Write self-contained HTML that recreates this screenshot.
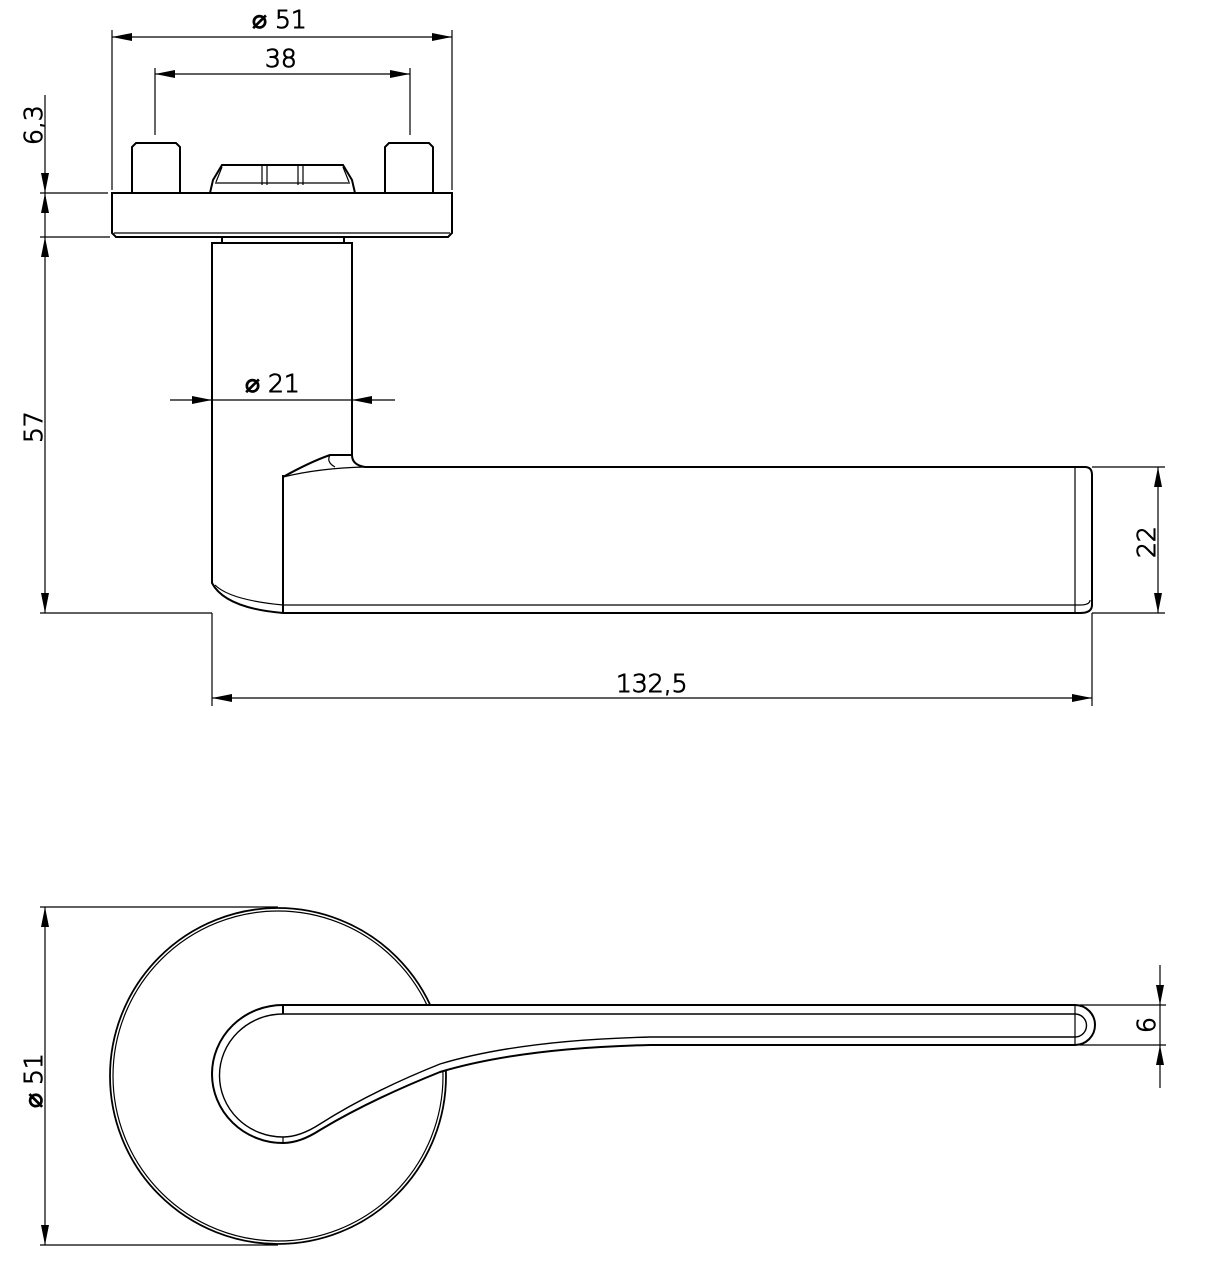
<!DOCTYPE html>
<html><head><style>body{margin:0;background:#fff}svg{display:block}text{font-family:"DejaVu Sans","Liberation Sans",sans-serif;font-size:25px;fill:#000;font-weight:300}</style></head><body>
<svg width="1227" height="1276" viewBox="0 0 1227 1276" fill="none" stroke="#000">
<defs><marker id="a" viewBox="0 0 20 8" refX="20" refY="4" markerWidth="20" markerHeight="8" orient="auto-start-reverse" markerUnits="userSpaceOnUse"><path d="M0 0L20 4L0 8z" fill="#000" stroke="none"/></marker></defs>
<g stroke-width="1.2">
<line x1="112" y1="30" x2="112" y2="190"/><line x1="452" y1="30" x2="452" y2="190"/>
<line x1="112" y1="37" x2="452" y2="37" marker-start="url(#a)" marker-end="url(#a)"/>
<line x1="155" y1="68" x2="155" y2="135"/><line x1="410" y1="68" x2="410" y2="135"/>
<line x1="155" y1="74" x2="410" y2="74" marker-start="url(#a)" marker-end="url(#a)"/>
<line x1="40" y1="193" x2="108" y2="193"/><line x1="40" y1="237" x2="110" y2="237"/>
<line x1="45" y1="95" x2="45" y2="193" marker-end="url(#a)"/>
<line x1="45" y1="193" x2="45" y2="237" marker-start="url(#a)"/>
<line x1="45" y1="237" x2="45" y2="613" marker-start="url(#a)" marker-end="url(#a)"/>
<line x1="40" y1="613" x2="212" y2="613"/>
<line x1="170" y1="400" x2="212" y2="400" marker-end="url(#a)"/>
<line x1="212" y1="400" x2="352" y2="400"/>
<line x1="395" y1="400" x2="352" y2="400" marker-end="url(#a)"/>
<line x1="1092" y1="467" x2="1165" y2="467"/><line x1="1092" y1="613" x2="1165" y2="613"/>
<line x1="1158" y1="467" x2="1158" y2="613" marker-start="url(#a)" marker-end="url(#a)"/>
<line x1="212" y1="613" x2="212" y2="706"/><line x1="1092" y1="613" x2="1092" y2="706"/>
<line x1="212" y1="698" x2="1092" y2="698" marker-start="url(#a)" marker-end="url(#a)"/>
<line x1="40" y1="907" x2="278" y2="907"/><line x1="40" y1="1245" x2="278" y2="1245"/>
<line x1="45" y1="907" x2="45" y2="1245" marker-start="url(#a)" marker-end="url(#a)"/>
<line x1="1080" y1="1005" x2="1166" y2="1005"/><line x1="1080" y1="1045" x2="1166" y2="1045"/>
<line x1="1160" y1="965" x2="1160" y2="1005" marker-end="url(#a)"/>
<line x1="1160" y1="1005" x2="1160" y2="1045"/>
<line x1="1160" y1="1088" x2="1160" y2="1045" marker-end="url(#a)"/>
</g>
<g stroke-width="2">
<path d="M112 193H452V233L448 237H116L112 233Z"/><line x1="114" y1="233" x2="450" y2="233" stroke-width="1.2"/>
<path d="M132 193V147L136 143H176L180 147V193"/>
<path d="M385 193V147L389 143H429L433 147V193"/>
<path d="M210 193L213 180L222 165H343L352 180L355 193"/>
<path d="M216 182L222 167M349 182L343 167M215 183H350" stroke-width="1.2"/>
<path d="M262 165V185M267 165V185M298 165V185M303 165V185" stroke-width="1.2"/>
<path d="M222 237V243H344V237"/>
<path d="M212 243H352V455Q352 465 365 467H1085Q1092 467 1092 475V605Q1092 613 1080 613H283Q225 608 212 583Z"/>
<path d="M283 613V475L283 477Q310 462 330 455H352" />
<path d="M283 477Q320 468 365 467M330 455Q326 462 335 467M1075 467V613" stroke-width="1.2"/>
<path d="M283 605Q230 600 215 585M283 605H1080Q1090 605 1090 600" stroke-width="1.2"/>
<circle cx="278" cy="1076" r="168" stroke-width="1.8"/>
<circle cx="278" cy="1076" r="165" stroke-width="1.2"/>
<path d="M283 1005H1075A20 20 0 0 1 1075 1045H650Q520 1048 440 1072Q370 1100 320 1130Q300 1143 283 1143A71 69 0 0 1 283 1005Z" fill="#fff"/>
<path d="M283 1014H1075A11 11 0 0 1 1075 1037H650Q520 1040 440 1064Q370 1092 320 1124Q300 1137 283 1137A63 61 0 0 1 283 1014" stroke-width="1.4"/>
<line x1="283" y1="1005" x2="283" y2="1014"/><line x1="1075" y1="1005" x2="1075" y2="1045" stroke-width="1.2"/>
<line x1="283" y1="1137" x2="283" y2="1143" stroke-width="1.2"/>
</g>
<text x="252" y="28">⌀ 51</text>
<text x="265" y="67">38</text>
<text x="245" y="392">⌀ 21</text>
<text x="616" y="692">132,5</text>
<text transform="translate(42,145) rotate(-90)">6,3</text>
<text transform="translate(42,443) rotate(-90)">57</text>
<text transform="translate(1155,558) rotate(-90)">22</text>
<text transform="translate(1155,1033) rotate(-90)">6</text>
<text transform="translate(42,1108) rotate(-90)">⌀ 51</text>
</svg>
</body></html>
